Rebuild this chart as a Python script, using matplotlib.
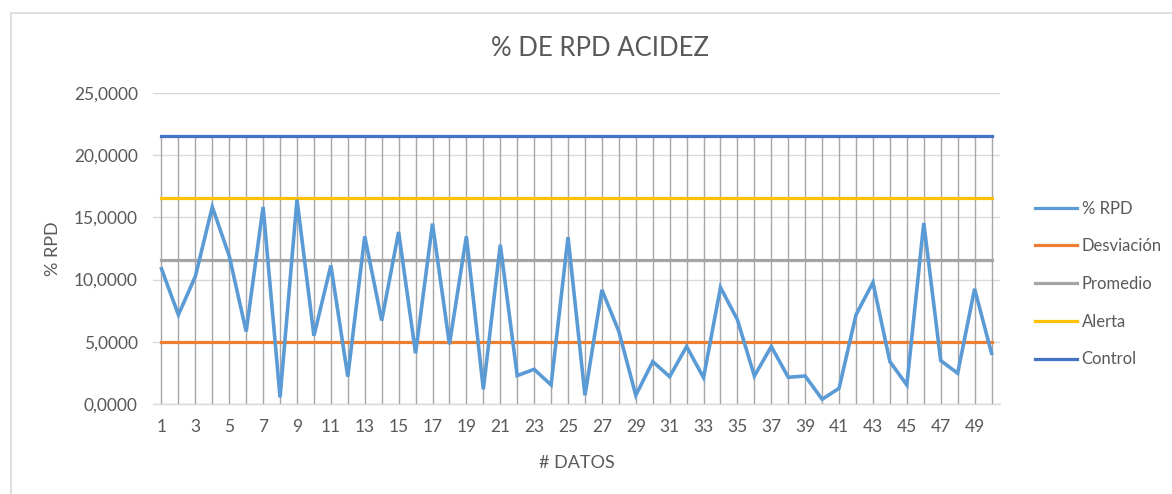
import matplotlib
matplotlib.use("Agg")
import matplotlib.pyplot as plt
from matplotlib.patches import Rectangle
from matplotlib.lines import Line2D
from matplotlib.ticker import FuncFormatter

plt.rcParams['font.family'] = ['Lato', 'DejaVu Sans']

datos = list(range(1, 51))
rpd = [10.87, 7.17, 10.26, 15.84, 11.90, 5.83, 15.84, 0.53, 16.43, 5.48,
       11.14, 2.20, 13.48, 6.71, 13.83, 4.08, 14.50, 4.80, 13.48, 1.18,
       12.80, 2.28, 2.79, 1.53, 13.42, 0.70, 9.18, 5.83, 0.70, 3.41,
       2.20, 4.62, 2.12, 9.37, 6.77, 2.25, 4.62, 2.15, 2.25, 0.38,
       1.26, 7.17, 9.77, 3.41, 1.53, 14.55, 3.49, 2.47, 9.26, 4.08]
desviacion = 4.98
promedio = 11.58
alerta = 16.56
control = 21.54

series = [
    ("% RPD", None, "#5B9BD5"),
    ("Desviación", desviacion, "#ED7D31"),
    ("Promedio", promedio, "#A5A5A5"),
    ("Alerta", alerta, "#FFC000"),
    ("Control", control, "#4472C4"),
]

W, H = 1172, 494
fig = plt.figure(figsize=(W / 100, H / 100), dpi=100)
fig.patches.append(Rectangle((11 / W, -0.1), 1.2, 1 - 13 / H + 0.1,
                             transform=fig.transFigure, fill=False,
                             edgecolor="#D9D9D9", lw=1.2))

ax = fig.add_axes([153 / W, (H - 404) / H, 847 / W, 311 / H])
text_c = "#595959"

# drop lines
ax.vlines(datos, 0, control, colors="#A6A6A6", lw=1.0, zorder=1)

handles = []
for name, val, col in series:
    if val is None:
        ax.plot(datos, rpd, color=col, lw=2.6, zorder=4, solid_joinstyle="miter")
    else:
        ax.plot(datos, [val] * len(datos), color=col, lw=2.3, zorder=3)
    handles.append(Line2D([], [], color=col, lw=2.3))

ax.set_xlim(0.5, 50.5)
ax.set_ylim(0, 25)
ax.set_yticks([0, 5, 10, 15, 20, 25])
ax.yaxis.set_major_formatter(FuncFormatter(lambda v, p: f"{v:.4f}".replace(".", ",")))
ax.set_xticks(datos[::2])
ax.set_xticklabels([str(d) for d in datos[::2]])
ax.grid(axis="y", color="#D9D9D9", lw=1.0, zorder=0)
ax.set_axisbelow(True)
for s in ["top", "right", "left"]:
    ax.spines[s].set_visible(False)
ax.spines["bottom"].set_color("#D9D9D9")
ax.spines["bottom"].set_linewidth(1.0)
ax.tick_params(axis="both", length=0, labelsize=12.5, labelcolor=text_c)
ax.tick_params(axis="y", pad=11)
ax.tick_params(axis="x", pad=11)

ax.set_ylabel("% RPD", fontsize=13, color=text_c, labelpad=9)
ax.set_xlabel("# DATOS", fontsize=13, color=text_c, labelpad=14)

fig.text(600 / W, 1 - 48 / H, "% DE RPD ACIDEZ", ha="center", va="center",
         fontsize=18.5, color=text_c)

leg = fig.legend(handles, [s[0] for s in series], loc="center left",
                 bbox_to_anchor=(1020 / W, 1 - 284 / H), frameon=False,
                 fontsize=12, labelcolor=text_c, handlelength=2.5,
                 handletextpad=0.3, labelspacing=1.3)

fig.savefig("out.png", dpi=100)
